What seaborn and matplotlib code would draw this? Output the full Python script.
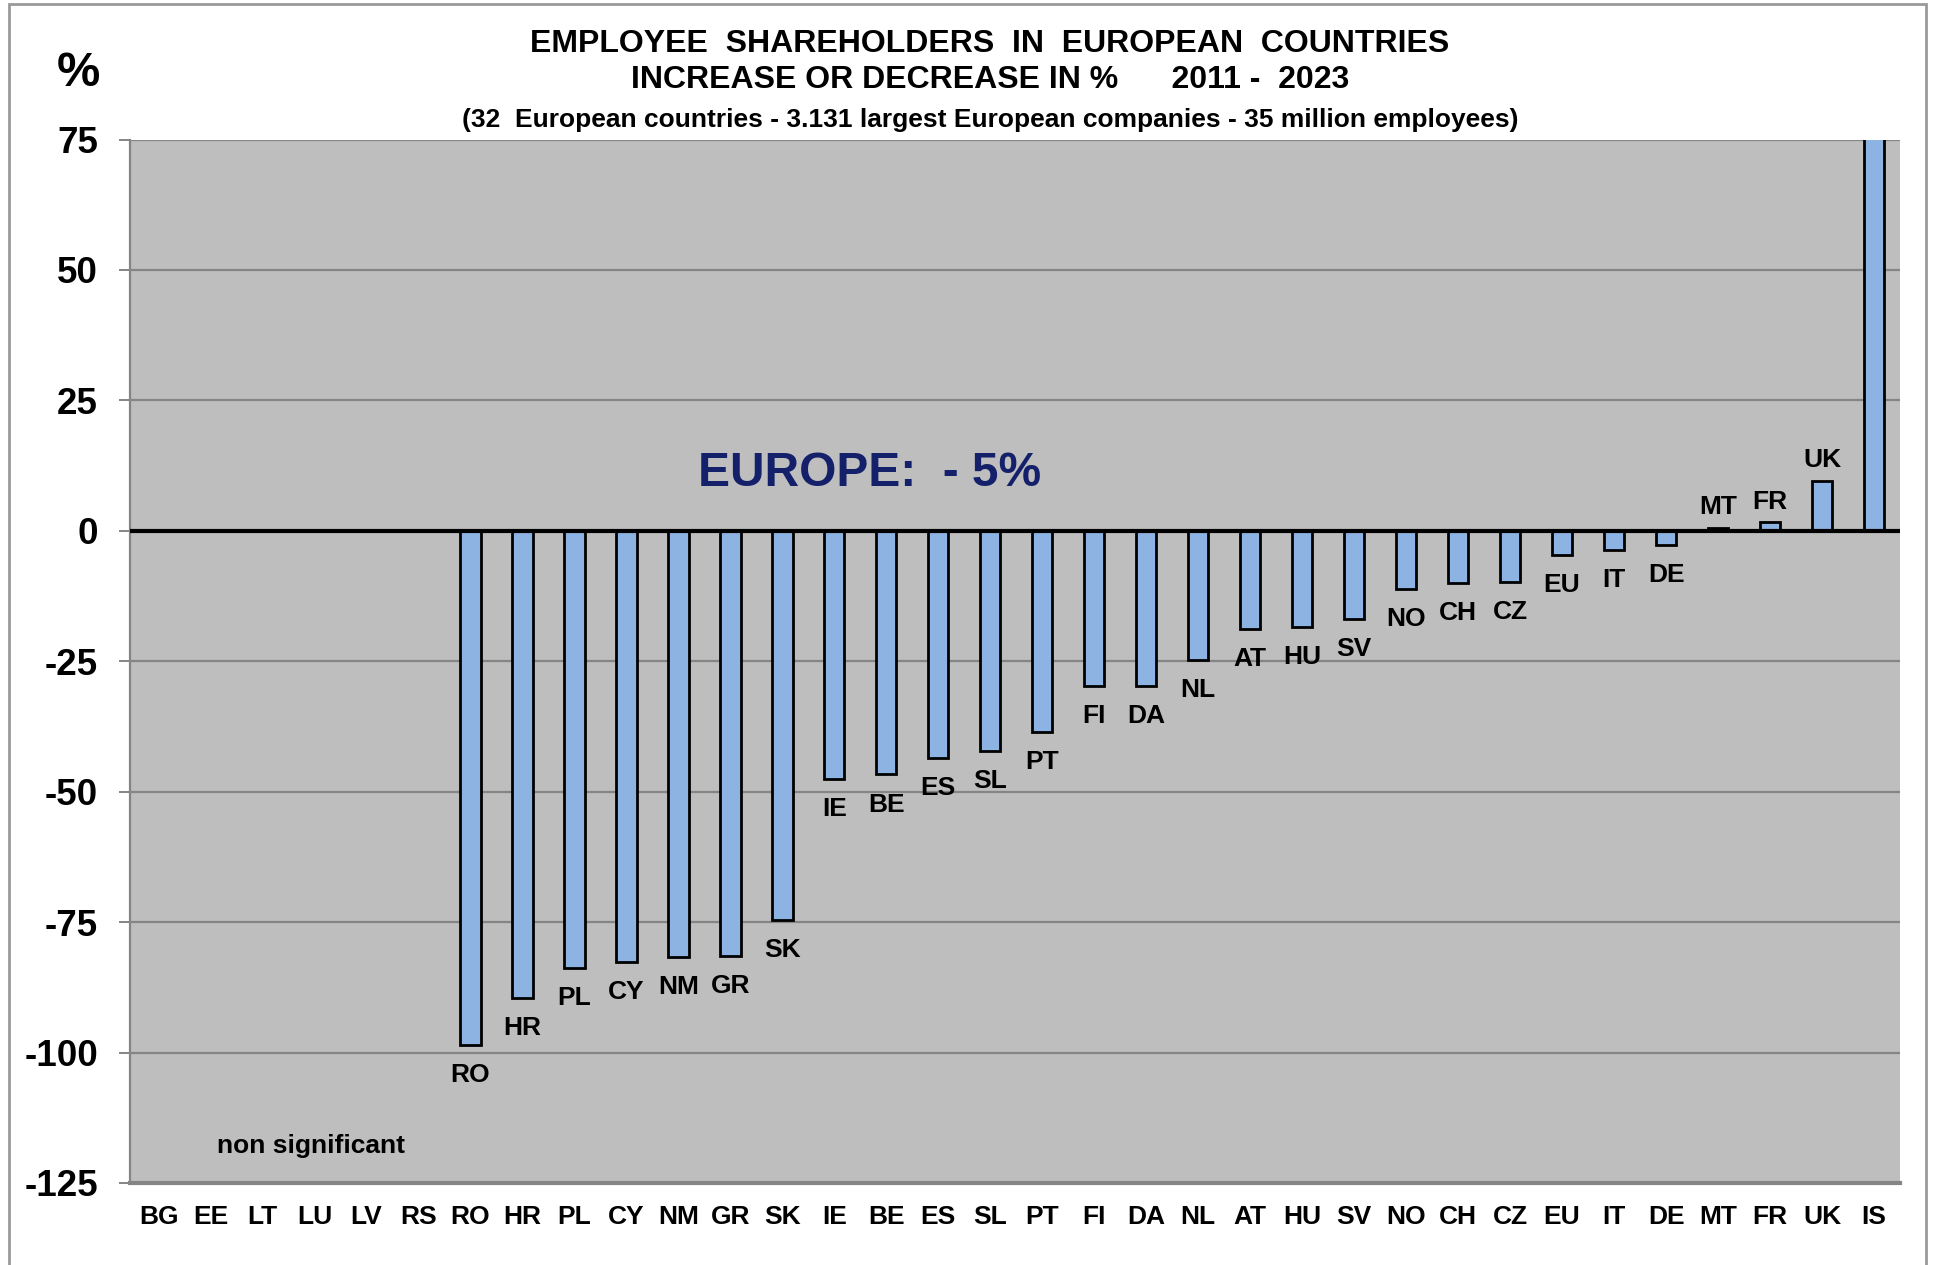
import matplotlib
matplotlib.use("Agg")
import matplotlib.pyplot as plt
import seaborn as sns
import pandas as pd
from matplotlib.patches import Rectangle

# Country order on the x axis (first six have no significant data)
countries = ["BG", "EE", "LT", "LU", "LV", "RS", "RO", "HR", "PL", "CY", "NM", "GR",
             "SK", "IE", "BE", "ES", "SL", "PT", "FI", "DA", "NL", "AT", "HU", "SV",
             "NO", "CH", "CZ", "EU", "IT", "DE", "MT", "FR", "UK", "IS"]

# Countries with a measured change and their change in % (2011 - 2023)
measured = ["RO", "HR", "PL", "CY", "NM", "GR", "SK", "IE", "BE", "ES", "SL", "PT",
            "FI", "DA", "NL", "AT", "HU", "SV", "NO", "CH", "CZ", "EU", "IT", "DE",
            "MT", "FR", "UK", "IS"]
change = [-98.5, -89.5, -83.7, -82.7, -81.6, -81.4, -74.6, -47.5, -46.7, -43.6, -42.2,
          -38.6, -29.7, -29.7, -24.8, -18.8, -18.5, -16.9, -11.2, -10.0, -9.8, -4.7,
          -3.6, -2.7, 0.6, 1.6, 9.6, 110.0]

yticks = [75, 50, 25, 0, -25, -50, -75, -100, -125]

df = pd.DataFrame({"country": measured, "change": change})

sns.set_style("white")
plt.rcParams["font.family"] = ["Liberation Sans", "DejaVu Sans"]
plt.rcParams["font.weight"] = "bold"
plt.rcParams["text.color"] = "black"
plt.rcParams["xtick.color"] = "black"
plt.rcParams["ytick.color"] = "black"
plt.rcParams["xtick.labelcolor"] = "black"
plt.rcParams["ytick.labelcolor"] = "black"

fig = plt.figure(figsize=(19.35, 12.65), dpi=100)
ax = fig.add_axes([130 / 1935, 1 - 1183 / 1265, (1900 - 130) / 1935, (1183 - 139.5) / 1265])
ax.set_facecolor("#bebebe")

sns.barplot(data=df, x="country", y="change", order=countries, color="#8db3e2",
            saturation=1, width=0.39, edgecolor="black", linewidth=2.0, ax=ax,
            errorbar=None, zorder=3)

ax.set_ylim(-125, 75)
ax.set_xlim(-0.55, len(countries) - 0.5)
ax.set_yticks(yticks)
ax.set_yticklabels([str(v) for v in yticks])

# horizontal grid and zero line
for v in yticks:
    if v not in (0, -125):
        ax.axhline(v, color="#858585", lw=1.6, zorder=1)
ax.axhline(0, color="black", lw=3.0, zorder=4)

for side in ("top", "right"):
    ax.spines[side].set_visible(False)
ax.spines["left"].set_color("#858585")
ax.spines["left"].set_linewidth(1.6)
ax.spines["bottom"].set_color("#858585")
ax.spines["bottom"].set_linewidth(3.0)

ax.tick_params(axis="y", direction="out", length=8, width=1.4, color="#858585",
               labelcolor="black", labelsize=26.5, pad=15, left=True)
ax.tick_params(axis="x", length=0, labelsize=19, pad=16, labelcolor="black")
for lab in ax.get_xticklabels() + ax.get_yticklabels():
    lab.set_fontweight("bold")
ax.set_xlabel("")
ax.set_ylabel("")

# country labels at the bar ends
for c, v in zip(measured, change):
    i = countries.index(c)
    if v < 0:
        ax.annotate(c, xy=(i, v), xytext=(0, -13), textcoords="offset points",
                    ha="center", va="top", fontsize=19, fontweight="bold")
    else:
        ax.annotate(c, xy=(i, v), xytext=(0, 6), textcoords="offset points",
                    ha="center", va="bottom", fontsize=19, fontweight="bold")

ax.text(13.67, 11, "EUROPE:  - 5%", color="#14206a", fontsize=34.5, fontweight="bold",
        ha="center", va="center", zorder=5)
ax.text(2.93, -118, "non significant", fontsize=19, fontweight="bold",
        ha="center", va="center", zorder=5)

# titles
fig.text(990 / 1935, 1 - 43.5 / 1265, "EMPLOYEE  SHAREHOLDERS  IN  EUROPEAN  COUNTRIES",
         ha="center", va="center", fontsize=23, fontweight="bold")
fig.text(990 / 1935, 1 - 80.5 / 1265, "INCREASE OR DECREASE IN %      2011 -  2023",
         ha="center", va="center", fontsize=23, fontweight="bold")
fig.text(990 / 1935, 1 - 119.5 / 1265,
         "(32  European countries - 3.131 largest European companies - 35 million employees)",
         ha="center", va="center", fontsize=19, fontweight="bold")
fig.text(78 / 1935, 1 - 73 / 1265, "%", ha="center", va="center", fontsize=35,
         fontweight="bold")

# outer frame
fig.patches.append(Rectangle((9 / 1935, -0.05), (1926 - 9) / 1935, 1.05 - 4 / 1265,
                             transform=fig.transFigure, fill=False,
                             edgecolor="#9a9a9a", linewidth=2.0))

fig.savefig("out.png", dpi=100, facecolor="white")
